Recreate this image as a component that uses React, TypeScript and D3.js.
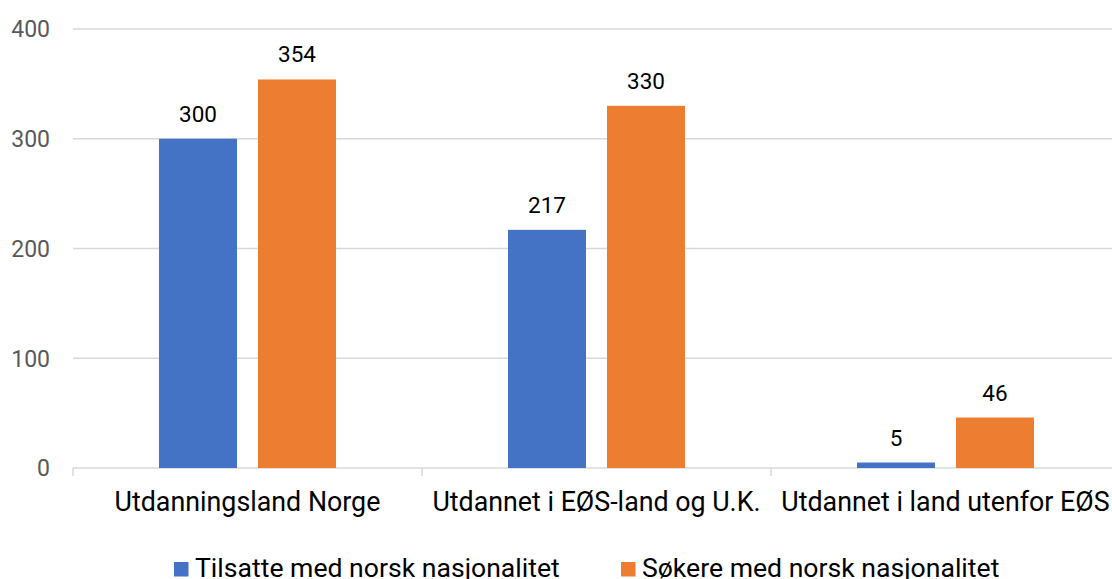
import React from "react";
import * as d3 from "d3";

const categories = ["Utdanningsland Norge", "Utdannet i EØS-land og U.K.", "Utdannet i land utenfor EØS"];
const seriesNames = ["Tilsatte med norsk nasjonalitet", "Søkere med norsk nasjonalitet"];
const tilsatte = [300, 217, 5];
const sokere = [354, 330, 46];
const yTicks = [0, 100, 200, 300, 400];
const colors = ["#4472c4", "#ed7d31"];

const W = 1112;
const H = 579;
const FONT = "Roboto, 'Noto Sans', sans-serif";

export default function App() {
  const x0 = d3.scaleBand<string>().domain(categories).range([73, 1120]).paddingInner(0).paddingOuter(0);
  const x1 = d3
    .scaleBand<string>()
    .domain(seriesNames)
    .range([0, x0.bandwidth()])
    .paddingInner(0.212)
    .paddingOuter(0.869);
  const y = d3.scaleLinear().domain([0, 400]).range([468, 29]);
  const values = [tilsatte, sokere];
  const boundaries = [...categories.map((c) => x0(c) as number), 1120];

  return (
    <svg
      width={W}
      height={H}
      style={{ position: "absolute", left: 0, top: 0, background: "#fff" }}
      fontFamily={FONT}
    >
      <rect x={0} y={0} width={W} height={H} fill="#fff" />
      {yTicks.map((t) => (
        <g key={t}>
          {t !== 0 && (
            <line x1={73} x2={W} y1={y(t)} y2={y(t)} stroke="#d9d9d9" strokeWidth={1.5} />
          )}
          <text x={50} y={y(t)} dy="0.36em" textAnchor="end" fontSize={23} fill="#595959">
            {t}
          </text>
        </g>
      ))}
      <line x1={73} x2={W} y1={y(0)} y2={y(0)} stroke="#d9d9d9" strokeWidth={1.5} />
      {boundaries.map((b, i) => (
        <line key={i} x1={b} x2={b} y1={y(0)} y2={y(0) + 8} stroke="#d9d9d9" strokeWidth={1.5} />
      ))}
      {categories.map((c, ci) => (
        <g key={c} transform={`translate(${x0(c)},0)`}>
          {seriesNames.map((s, si) => {
            const v = values[si][ci];
            const bx = x1(s) as number;
            return (
              <g key={s}>
                <rect x={bx} y={y(v)} width={x1.bandwidth()} height={y(0) - y(v)} fill={colors[si]} />
                <text
                  x={bx + x1.bandwidth() / 2}
                  y={y(v) - 17}
                  textAnchor="middle"
                  fontSize={22.5}
                  fill="#000"
                >
                  {v}
                </text>
              </g>
            );
          })}
          <text x={x0.bandwidth() / 2} y={510.5} textAnchor="middle" fontSize={26.8} fill="#000">
            {c}
          </text>
        </g>
      ))}
      <g>
        <rect x={174} y={562} width={14.5} height={14.5} fill={colors[0]} />
        <text x={195} y={576.5} fontSize={26.6} fill="#000">
          {seriesNames[0]}
        </text>
        <rect x={621} y={562} width={14.5} height={14.5} fill={colors[1]} />
        <text x={642} y={576.5} fontSize={26.6} fill="#000">
          {seriesNames[1]}
        </text>
      </g>
    </svg>
  );
}
